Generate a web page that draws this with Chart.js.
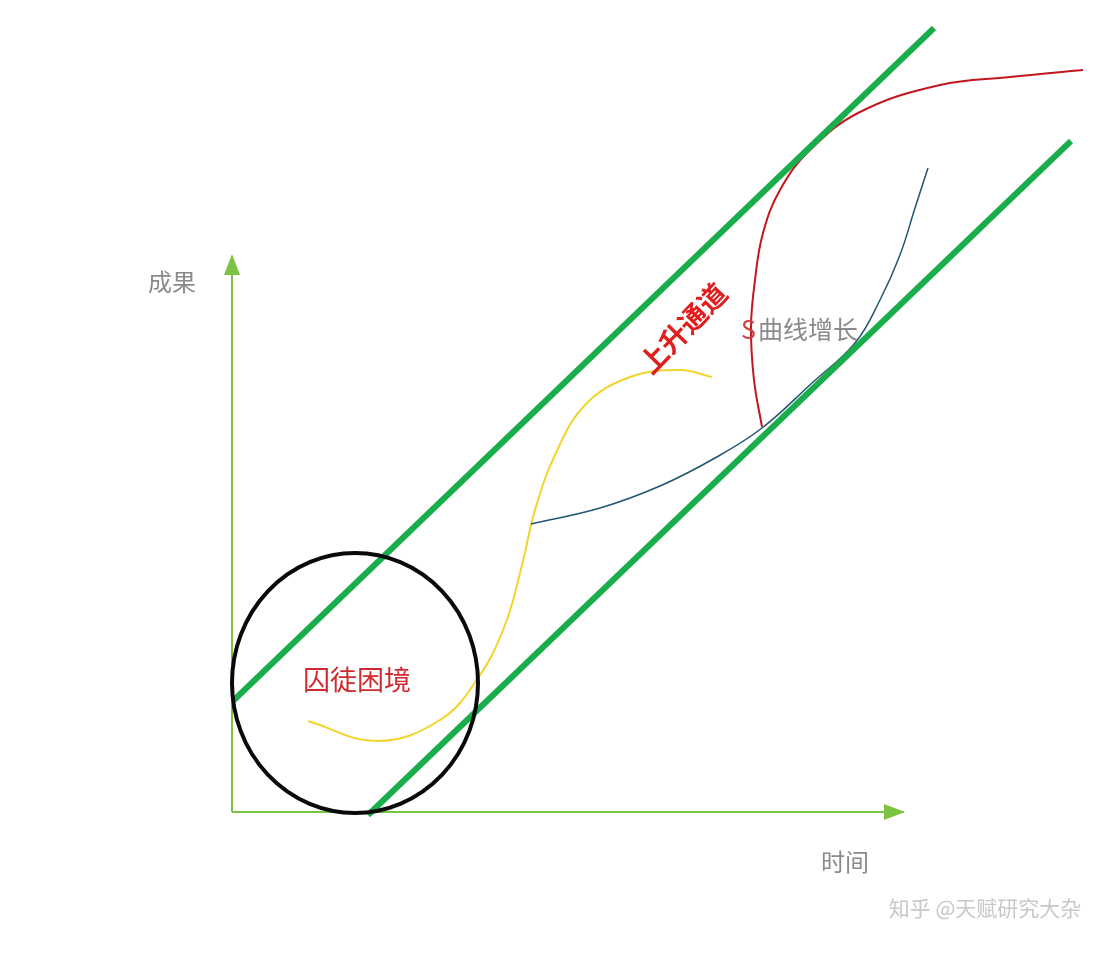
<!DOCTYPE html>
<html>
<head>
<meta charset="utf-8">
<script src="https://cdn.jsdelivr.net/npm/chart.js@4"></script>
<style>
  html, body { margin: 0; padding: 0; background: #fff; }
  #wrap { width: 1104px; height: 956px; }
</style>
</head>
<body>
<div id="wrap"><canvas id="chart" width="1104" height="956"></canvas></div>
<script>
// 座標はすべて画像上の位置(px)で読み取った値
// 軸
const axisX = [232, 904];
const axisY = [812, 812];
const axisVX = [232, 232];
const axisVY = [812, 256];

// 上升通道(上下の緑線)
const upperChannelX = [234, 934];
const upperChannelY = [700, 28];
const lowerChannelX = [368, 1071];
const lowerChannelY = [815, 141];

// 黄色の曲線
const yellowX = [308, 377, 440, 478, 505, 522, 535, 555, 585, 630, 680, 712];
const yellowY = [721, 741, 720, 678, 625, 565, 510, 455, 405, 377, 370, 377];

// 青い曲線
const tealX = [531, 600, 660, 715, 762, 812, 855, 880, 900, 915, 928];
const tealY = [524, 508, 486, 458, 428, 383, 343, 300, 255, 208, 168];

// 赤い曲線(S曲線)
const redX = [762, 754, 751, 755, 763, 780, 810, 860, 940, 1010, 1083];
const redY = [427, 380, 327, 280, 233, 190, 150, 112, 85, 77, 70];

// 囚徒困境の円
const circleCenter = [355, 683];
const circleRadius = [123, 130];

// テキスト
const labelTexts = ['成果', '时间', '囚徒困境', '上升通道', 'S', '曲线增长', '知乎 @天赋研究大杂'];
const labelX = [172, 845, 357, 683, 756, 758, 985];
const labelY = [282, 862, 680, 328, 329, 329, 908];

function toPoints(xs, ys) {
  return xs.map((x, i) => ({ x: x, y: ys[i] }));
}

function lineSet(xs, ys, color, width, tension, order) {
  return {
    data: toPoints(xs, ys),
    showLine: true,
    borderColor: color,
    borderWidth: width,
    pointRadius: 0,
    tension: tension,
    fill: false,
    order: order,
  };
}

// 円・矢印・文字を描くプラグイン
const decoPlugin = {
  id: 'deco',
  afterDatasetsDraw(chart) {
    const ctx = chart.ctx;
    const sx = chart.scales.x;
    const sy = chart.scales.y;

    // 円
    const cx = sx.getPixelForValue(circleCenter[0]);
    const cy = sy.getPixelForValue(circleCenter[1]);
    const rx = sx.getPixelForValue(circleCenter[0] + circleRadius[0]) - cx;
    const ry = sy.getPixelForValue(circleCenter[1] + circleRadius[1]) - cy;
    ctx.save();
    ctx.beginPath();
    ctx.ellipse(cx, cy, Math.abs(rx), Math.abs(ry), 0, 0, Math.PI * 2);
    ctx.strokeStyle = '#0a0a0a';
    ctx.lineWidth = 4;
    ctx.stroke();
    ctx.restore();

    // 矢印
    ctx.save();
    ctx.fillStyle = '#7cc243';
    const ty = sy.getPixelForValue(axisVY[1]);
    const tx0 = sx.getPixelForValue(axisVX[1]);
    ctx.beginPath();
    ctx.moveTo(tx0, ty - 2);
    ctx.lineTo(tx0 - 8, ty + 19);
    ctx.lineTo(tx0 + 8, ty + 19);
    ctx.closePath();
    ctx.fill();
    const ax = sx.getPixelForValue(axisX[1]);
    const ay = sy.getPixelForValue(axisY[1]);
    ctx.beginPath();
    ctx.moveTo(ax + 1, ay);
    ctx.lineTo(ax - 20, ay - 8);
    ctx.lineTo(ax - 20, ay + 8);
    ctx.closePath();
    ctx.fill();
    ctx.restore();

    // 文字
    const font = '"Noto Sans CJK SC", "Noto Sans", sans-serif';
    const styles = [
      { size: 24, color: '#8a8a8a', weight: 'normal', rot: 0, align: 'center' },
      { size: 24, color: '#8a8a8a', weight: 'normal', rot: 0, align: 'center' },
      { size: 27, color: '#d02a2e', weight: 'normal', rot: 0, align: 'center' },
      { size: 28, color: '#e01e1e', weight: 'bold', rot: -46, align: 'center' },
      { size: 25, color: '#d04040', weight: 'normal', rot: 0, align: 'right' },
      { size: 25, color: '#8a8a8a', weight: 'normal', rot: 0, align: 'left' },
      { size: 21, color: '#c8c8c8', weight: 'normal', rot: 0, align: 'center' },
    ];
    labelTexts.forEach((t, i) => {
      const st = styles[i];
      ctx.save();
      ctx.translate(sx.getPixelForValue(labelX[i]), sy.getPixelForValue(labelY[i]));
      ctx.rotate(st.rot * Math.PI / 180);
      ctx.font = st.weight + ' ' + st.size + 'px ' + font;
      ctx.fillStyle = st.color;
      ctx.textAlign = st.align;
      ctx.textBaseline = 'middle';
      ctx.fillText(t, 0, 0);
      ctx.restore();
    });
  }
};

const cfg = {
  type: 'scatter',
  data: {
    datasets: [
      lineSet(axisX, axisY, '#7cc243', 2, 0, 9),
      lineSet(axisVX, axisVY, '#7cc243', 2, 0, 9),
      lineSet(yellowX, yellowY, '#f3d42c', 2, 0.4, 5),
      lineSet(tealX, tealY, '#1f5570', 1.5, 0.4, 4),
      lineSet(redX, redY, '#c3161e', 2, 0.4, 3),
      lineSet(upperChannelX, upperChannelY, '#1aad4c', 6, 0, 1),
      lineSet(lowerChannelX, lowerChannelY, '#1aad4c', 6, 0, 1),
    ],
  },
  options: {
    responsive: false,
    animation: false,
    layout: { padding: 0 },
    scales: {
      x: { type: 'linear', min: 0, max: 1104, display: false },
      y: { type: 'linear', min: 0, max: 956, reverse: true, display: false },
    },
    plugins: {
      legend: { display: false },
      tooltip: { enabled: false },
    },
  },
  plugins: [decoPlugin],
};

new Chart(document.getElementById('chart'), cfg);
</script>
</body>
</html>
